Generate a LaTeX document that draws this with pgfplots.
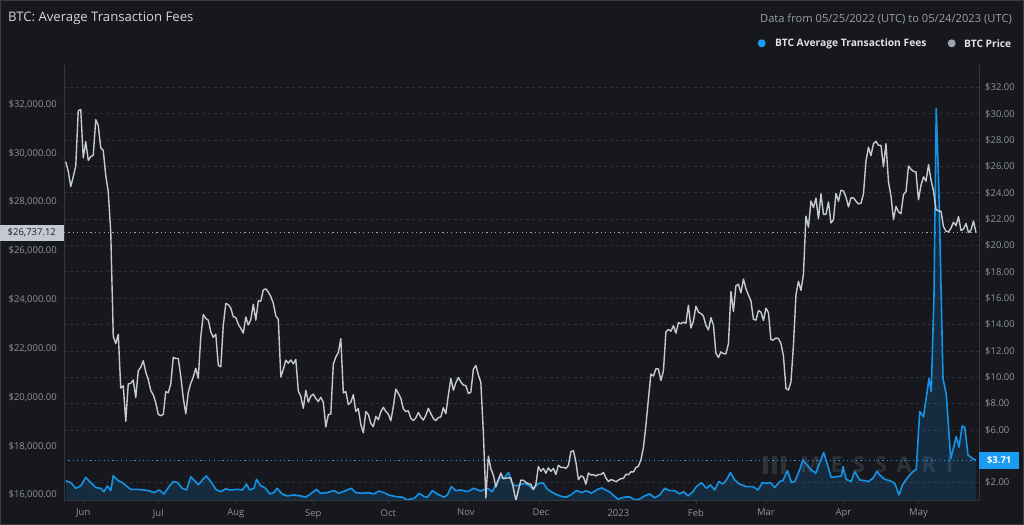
\documentclass[border=0pt]{standalone}
\usepackage{pgfplots}
\pgfplotsset{compat=1.18}
\usepackage{pgfplotstable}
\usepackage{fontspec}
\setmainfont{Open Sans}
\newfontfamily\wmfont[LetterSpace=45]{Open Sans}

\definecolor{bgc}{HTML}{17181D}
\definecolor{borderc}{HTML}{3A3C44}
\definecolor{gridc}{HTML}{2E3038}
\definecolor{axisc}{HTML}{34373F}
\definecolor{tickc}{HTML}{8E929C}
\definecolor{titlec}{HTML}{D4D6DC}
\definecolor{subc}{HTML}{9A9DA6}
\definecolor{legc}{HTML}{E0E2E6}
\definecolor{feeblue}{HTML}{1592E6}
\definecolor{tagblue}{HTML}{1A9BF0}
\definecolor{pricegray}{HTML}{C6C9D0}
\definecolor{dotgray}{HTML}{9EA2AC}
\definecolor{tagfill}{HTML}{C4C8D2}
\definecolor{tagtext}{HTML}{1E2026}
\definecolor{wmc}{HTML}{2E3138}

% BTC price, daily, 2022-05-25 .. 2023-05-24 (x = day index)
\pgfplotstableread{
p
29650
29260
28630
29030
29470
31730
31790
29800
30470
29700
29860
29910
31370
31130
30210
30110
29090
28420
26760
22490
22200
22580
20380
20470
19010
20550
20570
20710
19990
21090
21230
21500
21030
20730
20280
20100
19780
19300
19250
19300
20230
20190
20550
21640
21590
21590
20860
19970
19330
20210
20570
20830
21190
20780
22480
23390
23230
23160
22680
22460
22580
21310
21250
22950
23840
23800
23650
23300
23270
22990
22820
22630
23290
22960
23180
23810
23160
23950
23940
24400
24440
24310
24130
23850
23340
23190
20830
21140
21520
21400
21530
21370
21550
20260
20040
19550
20290
19800
20050
20130
19950
19830
20000
19800
18790
19290
19320
21360
21650
21830
22400
20180
20240
19700
19800
20110
19420
19540
18880
18550
19410
19300
18930
18800
19220
19080
19410
19590
19420
19310
19040
19620
20340
20160
19960
19530
19420
19450
19140
19050
19160
19380
19190
19070
19260
19550
19330
19130
19050
19170
19200
19570
19330
20090
20770
20290
20600
20810
20630
20500
20480
20160
20210
21150
21300
20920
20600
18540
15880
17590
17070
16810
16330
16620
16900
16660
16690
16700
16700
16280
15780
16190
16610
16600
16520
16460
16440
16220
16440
17170
16970
17090
16890
17110
16970
17090
16840
17220
17130
17130
17090
17210
17780
17810
17360
16630
16780
16740
16440
16900
16820
16830
16780
16840
16840
16920
16700
16550
16630
16600
16540
16610
16670
16680
16850
16830
16950
16940
17120
17180
17440
17940
18850
19930
20950
20870
21170
21160
20690
21080
22680
22780
22710
22930
22630
23060
23010
23080
23030
23770
22840
23130
23730
23490
23430
23330
22940
22760
23260
22960
21800
21630
21860
21790
21780
22200
24330
23520
24570
24630
24280
24840
24450
24190
23950
23200
23160
23550
23490
23150
23650
23470
22360
22350
22430
22410
22200
21700
20360
20300
20630
22140
24200
24750
24380
25040
27420
26970
28040
27770
28160
27310
28330
27490
27490
28000
27140
27270
28350
28030
28480
28450
28200
27800
28170
28170
28030
27920
27950
28330
29670
30240
29900
30390
30480
30320
30320
29440
30390
28820
28250
27280
27820
27590
27520
28310
28420
29470
29340
29250
29230
28090
28680
29030
28850
29530
28900
28450
27690
27630
27620
26990
26800
26780
26930
27170
27030
27400
26830
26890
27120
26750
26850
27220
26737.12
}\pricedata

% BTC average transaction fee (USD), x = day index
\pgfplotstableread{
x y
0 2.15
2 2.00
4 1.57
6 1.75
8 2.40
10 2.00
12 1.62
14 1.57
15.3 1.31
16.6 1.75
18 1.39
19 2.53
20.6 2.20
22.6 2.00
24.6 1.70
26 1.49
28.6 1.49
31.3 1.44
33.3 1.39
35.3 1.24
37.3 1.44
39.3 1.14
41.3 1.70
43 2.08
44.6 2.02
46.6 1.57
48.3 1.44
50 2.45
51.3 2.20
53 1.83
54.6 2.20
56.2 2.50
58 2.08
60 1.49
61.9 1.31
63.9 1.52
65.9 1.44
68.6 1.49
70.6 1.44
72.3 1.88
73.6 1.44
75.3 1.57
76.3 2.25
77.9 1.78
79.9 1.57
81.6 1.14
83.2 1.24
84.5 1.57
86.5 1.14
88.5 0.99
91.2 1.06
93.9 0.99
95.9 0.89
97.9 1.14
100.3 1.49
101.9 1.19
104.6 1.24
107.2 1.39
109.2 1.19
111.5 1.36
114.2 1.57
115.9 1.24
118.6 1.19
121.2 1.24
123.2 1.14
125.2 1.36
127.2 1.24
129.2 1.06
131.9 0.94
134.6 0.89
136.6 0.70
139.3 0.81
141.3 1.19
143.3 0.94
144.6 0.89
146.6 1.39
148.6 1.14
151.3 0.89
152.6 1.06
154.2 1.70
156 1.39
158 1.44
160.6 1.31
163.2 1.57
165.9 1.36
168.6 1.57
170.6 1.31
172.2 1.95
173.5 2.38
175.5 2.38
177.1 2.76
178.2 2.07
179.5 1.75
181.5 1.82
183.5 1.95
185.5 1.75
186.8 1.50
188.8 1.90
190.8 2.00
192.6 1.50
194.2 1.30
196.2 1.10
198.2 0.95
200.2 0.90
202.2 1.10
204.2 1.40
206.2 1.25
208.2 1.38
210.2 1.20
212.8 1.50
214.4 1.60
215.8 1.45
217.5 1.30
218.8 1.06
220.8 0.75
223.5 0.90
225.5 0.92
227.5 0.70
229.5 0.75
231.5 0.99
233.5 1.14
235.5 0.85
237.5 1.06
239.5 1.57
241.5 1.39
243.5 1.39
245.5 1.14
247.1 1.31
248.8 0.99
250.8 1.31
252.2 1.70
254.2 2.00
256.2 1.57
257.8 1.83
259.5 1.44
261.1 2.08
262.8 1.90
264.2 2.20
265.8 2.76
267.5 2.20
269.5 1.88
272.2 1.70
274.8 1.70
276.8 1.44
278.6 2.00
280.2 1.95
281.8 2.00
283.5 1.62
285.5 2.08
286.8 2.15
288.6 2.91
290.2 2.00
291.5 2.08
293.2 2.84
294.8 3.72
296.4 3.34
298.2 2.96
299.9 2.71
301.5 3.52
303.1 4.28
304.4 3.47
306.1 2.40
308.1 2.45
310.2 2.50
310.8 3.21
312.1 2.25
314.1 2.08
315.5 2.84
317.5 2.20
319.5 2.15
320.8 2.08
322.8 2.33
324.4 2.84
325.5 2.58
327.5 2.25
329.5 2.15
331.5 1.95
333.2 1.06
334.6 1.83
336.9 2.45
338.8 2.84
340.1 3.00
341.5 7.40
343 7.00
345.2 9.90
346.1 8.90
347.2 16.2
348.1 30.4
349.2 23.8
350.8 9.90
352.1 8.70
353.9 3.80
354.8 4.50
356.1 5.50
357.2 4.70
358.5 6.30
359.5 6.20
360.8 4.10
362.8 3.80
364 3.71
}\feedata

\pgfplotsset{
  common/.style={
    at={(64bp,25bp)}, anchor=south west,
    scale only axis, width=915bp, height=435bp,
    xmin=-0.7, xmax=365.2,
    axis line style={axisc, line width=0.8bp},
    major tick length=0pt,
    tick label style={text=tickc, font=\fontsize{9.5}{11}\selectfont},
    clip mode=individual,
  },
}

\begin{document}
\begin{tikzpicture}
\fill[bgc] (0,0) rectangle (1024bp,525bp);
\draw[borderc, line width=1bp] (0.5bp,0.5bp) rectangle (1023.5bp,524.5bp);

% header
\node[anchor=west, inner sep=0pt, text=titlec, font=\fontsize{13.2}{15}\selectfont]
  at (8bp,506.5bp) {BTC: Average Transaction Fees};
\node[anchor=east, inner sep=0pt, text=subc, font=\fontsize{11.2}{13}\selectfont]
  at (1012bp,506bp) {Data from 05/25/2022 (UTC) to 05/24/2023 (UTC)};
\fill[tagblue] (761.7bp,481.7bp) circle (4bp);
\node[anchor=west, inner sep=0pt, text=legc, font=\fontsize{10.3}{12}\selectfont\bfseries]
  at (775bp,481.5bp) {BTC Average Transaction Fees};
\fill[dotgray] (951.7bp,481.7bp) circle (4bp);
\node[anchor=west, inner sep=0pt, text=legc, font=\fontsize{10.3}{12}\selectfont\bfseries]
  at (964bp,481.5bp) {BTC Price};

% watermark
\foreach \i in {0,1,2} {
  \fill[wmc] (763bp+\i*9bp,51bp) rectangle (768bp+\i*9bp,69bp);
}
\node[anchor=west, inner sep=0pt, text=wmc, font=\wmfont\fontsize{22}{24}\selectfont\bfseries]
  at (800bp,60bp) {MESSARI};

% fees (right axis) with grid
\begin{axis}[common,
  ymin=0.68, ymax=33.7,
  axis y line*=right, axis x line*=bottom,
  ytick={2,6,8,...,32},
  yticklabels={{\$2.00},{\$6.00},{\$8.00},{\$10.00},{\$12.00},{\$14.00},{\$16.00},{\$18.00},{\$20.00},{\$22.00},{\$24.00},{\$26.00},{\$28.00},{\$30.00},{\$32.00}},
  yticklabel style={inner xsep=0pt, xshift=6bp},
  ymajorgrids, grid style={gridc, line width=0.7bp, dash pattern=on 3bp off 3bp},
  xtick={7,37,68,99,129,160,190,221,252,280,311,341},
  xticklabels={Jun,Jul,Aug,Sep,Oct,Nov,Dec,2023,Feb,Mar,Apr,May},
  major tick length=4bp,
  x tick style={axisc, line width=0.8bp},
  y tick style={draw=none},
  xtick align=outside,
  xticklabel style={inner sep=0pt, yshift=-5bp},
]
\addplot[draw=none, fill=feeblue, fill opacity=0.17] table[x=x, y=y] {\feedata} \closedcycle;
\addplot[feeblue, line width=1.6bp, line join=round] table[x=x, y=y] {\feedata};
\addplot[tagblue, line width=1bp, dash pattern=on 1.2bp off 3.2bp] coordinates {(-0.7,3.71) (365.2,3.71)};
\node[anchor=west, fill=tagblue, text=white, inner sep=0pt, minimum width=40bp, minimum height=17bp,
  font=\fontsize{9.5}{11}\selectfont\bfseries] at (axis cs:365.2,3.71) {\$3.71};
\end{axis}

% price (left axis)
\begin{axis}[common,
  ymin=15795, ymax=33609,
  scaled y ticks=false,
  axis y line*=left, axis x line=none,
  ytick={16000,18000,...,32000},
  yticklabels={{\$16,000.00},{\$18,000.00},{\$20,000.00},{\$22,000.00},{\$24,000.00},{\$26,000.00},{\$28,000.00},{\$30,000.00},{\$32,000.00}},
  yticklabel style={inner xsep=0pt, xshift=-7bp},
]
\addplot[pricegray, line width=1.4bp, line join=round] table[x expr=\coordindex, y=p] {\pricedata};
\addplot[dotgray, line width=1bp, dash pattern=on 1.2bp off 3.2bp] coordinates {(-0.7,26737.12) (365.2,26737.12)};
\node[anchor=east, fill=tagfill, text=tagtext, inner sep=0pt, minimum width=64bp, minimum height=16bp,
  font=\fontsize{9.5}{11}\selectfont] at (axis cs:-0.7,26737.12) {\$26,737.12};
\end{axis}

\pgfresetboundingbox
\path (0,0) rectangle (1024bp,525bp);
\end{tikzpicture}
\end{document}
